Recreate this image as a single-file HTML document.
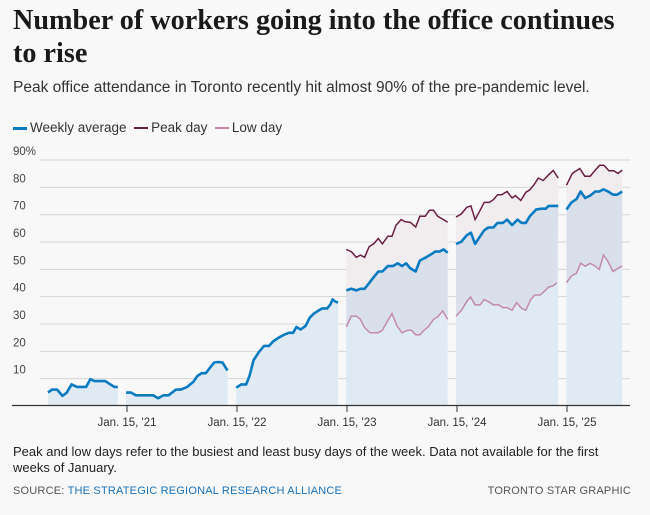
<!DOCTYPE html>
<html><head><meta charset="utf-8"><style>
body{margin:0;width:650px;height:515px;background:#f8f8f8;font-family:"Liberation Sans",sans-serif;overflow:hidden;position:relative}
.t{position:absolute;left:13px;top:4px;font-family:"Liberation Serif",serif;font-weight:bold;font-size:28.2px;line-height:33px;color:#1a1a1a;width:620px}
.s{position:absolute;left:13px;top:79px;font-size:15.5px;color:#333}
.lg{position:absolute;top:120px;left:13px;font-size:13.5px;color:#333}
.lg span{display:inline-block;width:14px;height:2px;vertical-align:middle;margin-right:3px}
.f{position:absolute;left:13px;top:444px;font-size:13px;line-height:16px;color:#222;width:612px}
.src{position:absolute;left:13px;top:485px;font-size:11px;color:#555;letter-spacing:.2px}
.src b{font-weight:normal;color:#1a73b8}
.tsg{position:absolute;right:19px;top:485px;font-size:11px;color:#555;letter-spacing:.2px}
</style></head><body>
<div class="t">Number of workers going into the office continues to rise</div>
<div class="s">Peak office attendance in Toronto recently hit almost 90% of the pre-pandemic level.</div>
<div class="lg"><span style="background:#0a7bc1;height:3px"></span>Weekly average &nbsp;<span style="background:#6b1f45"></span>Peak day &nbsp;<span style="background:#c48aab"></span>Low day</div>
<svg id="c" width="650" height="515" style="position:absolute;left:0;top:0" font-family="Liberation Sans, sans-serif"></svg>
<div class="f">Peak and low days refer to the busiest and least busy days of the week. Data not available for the first weeks of January.</div>
<div class="src">SOURCE: <b>THE STRATEGIC REGIONAL RESEARCH ALLIANCE</b></div>
<div class="tsg">TORONTO STAR GRAPHIC</div>
<script>
var X=function(a){return a*0.4155-1.9},Y=function(v){return 406-2.733*v};
var W=[
[[120,4.9],[130,6],[142,6],[155,3.7],[165,4.9],[177,7.9],[190,7],[205,7],[212,7],[222,9.8],[232,9.1],[245,9.1],[258,9.1],[270,7.9],[280,7],[288,7]],
[[308,4.9],[320,4.9],[332,3.9],[345,3.9],[360,3.9],[373,3.9],[385,2.8],[398,3.9],[410,3.9],[428,6],[440,6],[455,7],[470,8.9],[480,11],[490,12],[500,12],[510,14],[520,15.9],[530,16.1],[540,15.9],[552,13]],
[[573,6.7],[585,7.9],[597,7.9],[605,11],[615,16.8],[628,19.8],[640,22],[652,22],[663,23.8],[675,25],[690,26.2],[700,26.8],[710,26.8],[718,28.9],[728,28],[740,29.3],[750,32.3],[760,33.8],[770,34.8],[780,35.7],[792,35.7],[800,37.2],[805,39],[812,38.2],[818,37.8]],
[[838,42.3],[850,42.9],[862,42.3],[872,42.9],[882,42.9],[895,45.4],[905,47.3],[915,49.2],[925,49.2],[938,51.2],[950,51.2],[962,52.2],[972,51.2],[982,52.2],[992,50.4],[1005,49.2],[1015,53.2],[1030,54.4],[1042,55.5],[1052,56.5],[1062,56.5],[1072,57.3],[1082,56.1]],
[[1102,59.3],[1115,60.1],[1128,62.5],[1138,63.4],[1148,59.3],[1160,62.1],[1170,64.3],[1180,65.3],[1192,65.3],[1202,67],[1215,67],[1225,68.2],[1237,66.2],[1250,68.2],[1260,67],[1270,67],[1280,69.5],[1295,71.9],[1308,72.2],[1318,72.2],[1325,73.2],[1335,73.2],[1348,73.2]],
[[1368,71.9],[1380,74.5],[1392,75.7],[1402,78.5],[1413,76.1],[1425,77],[1437,78.5],[1447,78.5],[1457,79.3],[1468,78.5],[1480,77.3],[1490,77.3],[1502,78.5]]];
var P=[
[[838,57.3],[850,56.5],[862,54.4],[872,55.2],[882,54.4],[893,58.3],[905,59.5],[915,61.3],[925,59.3],[938,62.1],[948,62.1],[958,66.2],[970,68.2],[980,67.4],[992,67.2],[1005,65.5],[1015,69.4],[1028,69.4],[1038,71.6],[1048,71.6],[1058,69.4],[1070,68.4],[1082,67.2]],
[[1102,69.1],[1115,70.3],[1128,72.7],[1138,73.2],[1148,68.2],[1160,71.6],[1170,74.5],[1182,74.5],[1192,75.5],[1202,77.3],[1212,77.3],[1225,78.5],[1237,76.1],[1245,77],[1258,75.2],[1270,78.2],[1280,79.1],[1290,81],[1300,83.4],[1312,82.5],[1325,84.6],[1336,86.2],[1348,83.4]],
[[1368,80.8],[1382,85.1],[1400,86.9],[1412,84.1],[1425,84.1],[1437,86.3],[1448,88.1],[1458,88.1],[1470,86.1],[1482,86.1],[1492,85.1],[1502,86.3]]];
var L=[
[[838,28.9],[850,32.9],[862,32.9],[872,31.7],[882,28.7],[895,26.8],[905,26.8],[915,26.8],[925,27.7],[935,30.5],[948,33.8],[960,29.3],[972,26.8],[985,27.7],[995,27.7],[1005,26],[1015,26],[1025,27.7],[1035,28.9],[1048,31.7],[1058,32.6],[1070,34.8],[1082,31.7]],
[[1102,32.9],[1115,35],[1128,38.2],[1137,39.9],[1148,37],[1160,37],[1170,39],[1180,38.2],[1192,37],[1205,37],[1215,36],[1225,36],[1237,35],[1248,37.8],[1260,35.7],[1270,35],[1282,39],[1292,40.6],[1305,40.6],[1315,42],[1325,43.5],[1335,43.9],[1345,45.1]],
[[1368,45.2],[1380,47.6],[1392,48.6],[1402,52.2],[1413,51.2],[1425,52.2],[1437,51.2],[1447,50],[1457,55.2],[1468,52.8],[1480,49.2],[1492,50.4],[1502,51.2]]];
function pts(a){return a.map(function(p){return X(p[0]).toFixed(1)+','+Y(p[1]).toFixed(1)}).join(' ')}
var s='';
for(var v=10;v<=90;v+=10){var y=Y(v);s+='<line x1="40" x2="630" y1="'+y+'" y2="'+y+'" stroke="#d6d6d6" stroke-width="1"/>';s+='<text x="13" y="'+(y-5)+'" font-size="11.5" fill="#444">'+v+(v==90?'%':'')+'</text>';}
W.forEach(function(a){var x0=X(a[0][0]),x1=X(a[a.length-1][0]);s+='<polygon points="'+x0+',405 '+pts(a)+' '+x1+',405" fill="#dfeaf3"/>';});
for(var i=0;i<3;i++){var w=W[i+3];s+='<polygon points="'+pts(P[i])+' '+pts(w.slice().reverse())+'" fill="#f1edef"/>';s+='<polygon points="'+pts(w)+' '+pts(L[i].slice().reverse())+'" fill="#d9e0ea"/>';}
P.forEach(function(a){s+='<polyline points="'+pts(a)+'" fill="none" stroke="#6b1f45" stroke-width="1.5"/>';});
L.forEach(function(a){s+='<polyline points="'+pts(a)+'" fill="none" stroke="#c48aab" stroke-width="1.5"/>';});
W.forEach(function(a){s+='<polyline points="'+pts(a)+'" fill="none" stroke="#0a7bc1" stroke-width="2.6" stroke-linejoin="round"/>';});
s+='<line x1="12" x2="630" y1="405.5" y2="405.5" stroke="#333" stroke-width="1.2"/>';
var T=[[127,"'21"],[237,"'22"],[347,"'23"],[457,"'24"],[567,"'25"]];
T.forEach(function(t){s+='<line x1="'+t[0]+'" x2="'+t[0]+'" y1="405" y2="412" stroke="#333"/><text x="'+t[0]+'" y="426" font-size="11.5" fill="#333" text-anchor="middle">Jan. 15, '+t[1]+'</text>';});
document.getElementById('c').innerHTML=s;
</script>
</body></html>
